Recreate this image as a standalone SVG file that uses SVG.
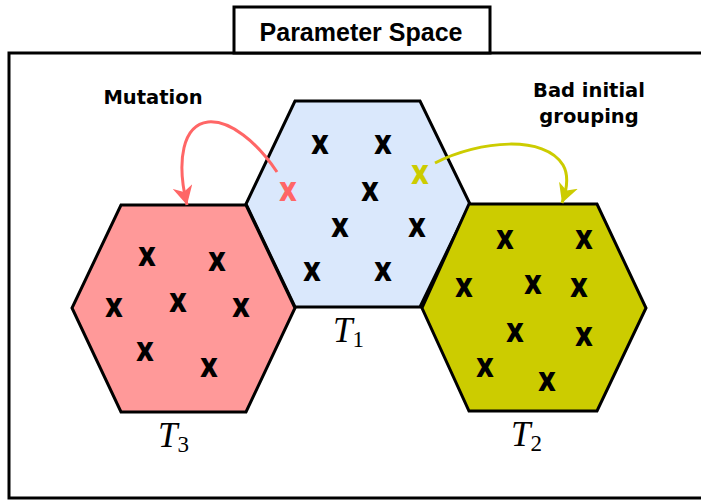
<svg xmlns="http://www.w3.org/2000/svg" width="701" height="502" viewBox="0 0 701 502">
<style>
.hex{stroke:#000;stroke-width:3;stroke-linejoin:miter}
.mk{font-family:Roboto,"Liberation Sans",sans-serif;font-weight:bold;font-size:35px;text-anchor:middle;fill:#000}
.lbl{font-family:"DejaVu Sans",sans-serif;font-weight:bold;font-size:19.5px;text-anchor:middle;fill:#000}
.tl{font-family:"Liberation Serif",serif;font-style:italic;font-size:35px;fill:#000}
.sub{font-family:"Liberation Serif",serif;font-style:normal;font-size:23px}
.conn{fill:none;stroke-width:3}
</style>
<defs>
<marker id="arR" markerUnits="userSpaceOnUse" markerWidth="20" markerHeight="20" viewBox="0 0 18 18" refX="17" refY="9" orient="auto">
<path d="M0,0 L17,9 L0,18 L5,9 Z" fill="#FF6666"/>
</marker>
<marker id="arY" markerUnits="userSpaceOnUse" markerWidth="20" markerHeight="20" viewBox="0 0 18 18" refX="17" refY="9" orient="auto">
<path d="M0,0 L17,9 L0,18 L5,9 Z" fill="#CCCC00"/>
</marker>
</defs>
<rect width="701" height="502" fill="#fff"/>
<g id="frame">
<rect x="9" y="53" width="700" height="445" fill="none" stroke="#000" stroke-width="3"/>
</g>
<g id="title">
<rect x="234" y="7" width="256" height="46" fill="#fff" stroke="#000" stroke-width="3"/>
<text x="361" y="41" font-family="Liberation Sans, Arial, sans-serif" font-weight="bold" font-size="25" text-anchor="middle">Parameter Space</text>
</g>
<g id="T1">
<polygon class="hex" fill="#DAE8FC" points="295,101 420,101 470,204 420,307 295,307 246,204"/>
<text class="mk" x="320" y="154">x</text>
<text class="mk" x="383" y="154">x</text>
<text class="mk" x="288" y="201" style="fill:#FF6666">x</text>
<text class="mk" x="370" y="201">x</text>
<text class="mk" x="420" y="184" style="fill:#CCCC00">x</text>
<text class="mk" x="340" y="237">x</text>
<text class="mk" x="417" y="237">x</text>
<text class="mk" x="312" y="281">x</text>
<text class="mk" x="383" y="281">x</text>
<text class="tl" x="333" y="342">T<tspan class="sub" dy="5">1</tspan></text>
</g>
<g id="T3">
<polygon class="hex" fill="#FF9999" points="121,205 246,205 295,308 246,412 121,412 72,308"/>
<text class="mk" x="147" y="266">x</text>
<text class="mk" x="217" y="271">x</text>
<text class="mk" x="114" y="317">x</text>
<text class="mk" x="178" y="312">x</text>
<text class="mk" x="241" y="317">x</text>
<text class="mk" x="145" y="361">x</text>
<text class="mk" x="209" y="377">x</text>
<text class="tl" x="158" y="447">T<tspan class="sub" dy="5">3</tspan></text>
</g>
<g id="T2">
<polygon class="hex" fill="#CCCC00" points="469,204 597,204 646,308 597,411 469,411 422,308"/>
<text class="mk" x="505" y="249">x</text>
<text class="mk" x="584" y="249">x</text>
<text class="mk" x="464" y="297">x</text>
<text class="mk" x="533" y="294">x</text>
<text class="mk" x="579" y="297">x</text>
<text class="mk" x="515" y="342">x</text>
<text class="mk" x="584" y="346">x</text>
<text class="mk" x="485" y="377">x</text>
<text class="mk" x="547" y="391">x</text>
<text class="tl" x="511" y="446">T<tspan class="sub" dy="5">2</tspan></text>
</g>
<g id="labels">
<text class="lbl" x="153" y="104">Mutation</text>
<text class="lbl" x="589" y="97">Bad initial</text>
<text class="lbl" x="589" y="123">grouping</text>
</g>
<g id="connectors">
<path class="conn" stroke="#FF6666" d="M277,172 C257,142 230,120 208,122 C183,125 176,160 187,205" marker-end="url(#arR)"/>
<path class="conn" stroke="#CCCC00" d="M435,163 C480,140 545,135 563,165 C570,177 566,192 562,203" marker-end="url(#arY)"/>
</g>
</svg>
